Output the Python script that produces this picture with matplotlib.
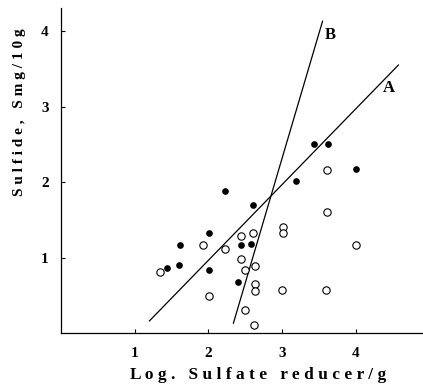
import matplotlib
matplotlib.use("Agg")
import matplotlib.pyplot as plt

plt.rcParams['font.family'] = ['Liberation Serif', 'DejaVu Serif']

# Filled circles (data)
filled_x = [2.22, 2.61, 1.61, 1.44, 1.60, 2.01, 2.01, 2.44, 2.58, 2.40, 3.43, 3.63, 3.19, 4.01]
filled_y = [1.88, 1.70, 1.17, 0.86, 0.90, 0.83, 1.33, 1.17, 1.18, 0.68, 2.51, 2.50, 2.01, 2.17]

# Open circles (data)
open_x = [1.34, 1.93, 2.23, 2.44, 2.60, 2.44, 2.50, 2.64, 2.63, 2.64, 2.01, 2.50, 2.62,
          3.61, 3.61, 3.01, 3.01, 4.00, 3.00, 3.60]
open_y = [0.81, 1.16, 1.11, 1.29, 1.32, 0.98, 0.84, 0.89, 0.65, 0.56, 0.49, 0.30, 0.11,
          2.16, 1.60, 1.41, 1.32, 1.16, 0.57, 0.57]

# Regression lines
line_a_x = [1.20, 4.58]
line_a_y = [0.16, 3.55]
line_b_x = [2.34, 3.55]
line_b_y = [0.13, 4.13]

x_ticks = [1, 2, 3, 4]
y_ticks = [1, 2, 3, 4]

fig = plt.figure(figsize=(4.23, 3.92), dpi=100)
ax = fig.add_axes([61/423, 59/392, 361/423, 324.6/392])
ax.set_xlim(0, 4.9)
ax.set_ylim(0, 4.3)

ax.plot(line_a_x, line_a_y, color='black', lw=0.9)
ax.plot(line_b_x, line_b_y, color='black', lw=0.9)

ax.plot(open_x, open_y, linestyle='none', marker='o', markersize=5.3,
        markerfacecolor='white', markeredgecolor='black', markeredgewidth=0.8)
ax.plot(filled_x, filled_y, linestyle='none', marker='o', markersize=3.8,
        markerfacecolor='black', markeredgecolor='black')

ax.text(4.45, 3.24, 'A', fontsize=12, fontweight='bold', ha='center', va='center')
ax.text(3.65, 3.95, 'B', fontsize=12, fontweight='bold', ha='center', va='center')

for s in ['top', 'right']:
    ax.spines[s].set_visible(False)
for s in ['left', 'bottom']:
    ax.spines[s].set_linewidth(0.9)

ax.set_xticks(x_ticks)
ax.set_yticks(y_ticks)
ax.set_xticklabels([str(t) for t in x_ticks], fontsize=11, fontweight='bold')
ax.set_yticklabels([str(t) for t in y_ticks], fontsize=11, fontweight='bold')
ax.tick_params(axis='x', direction='in', length=3, width=0.8, pad=10)
ax.tick_params(axis='y', direction='in', length=3, width=0.8, pad=9)

fig.text(258/423, 1 - 375/392, 'L o g .   S u l f a t e   r e d u c e r / g',
         fontsize=12.5, fontweight='bold', ha='center', va='center')
fig.text(20/423, 1 - 112/392, 'S u l f i d e ,   S m g / 1 0 g',
         fontsize=11, fontweight='bold', ha='center', va='center', rotation=90)

fig.savefig('out.png', dpi=100)
